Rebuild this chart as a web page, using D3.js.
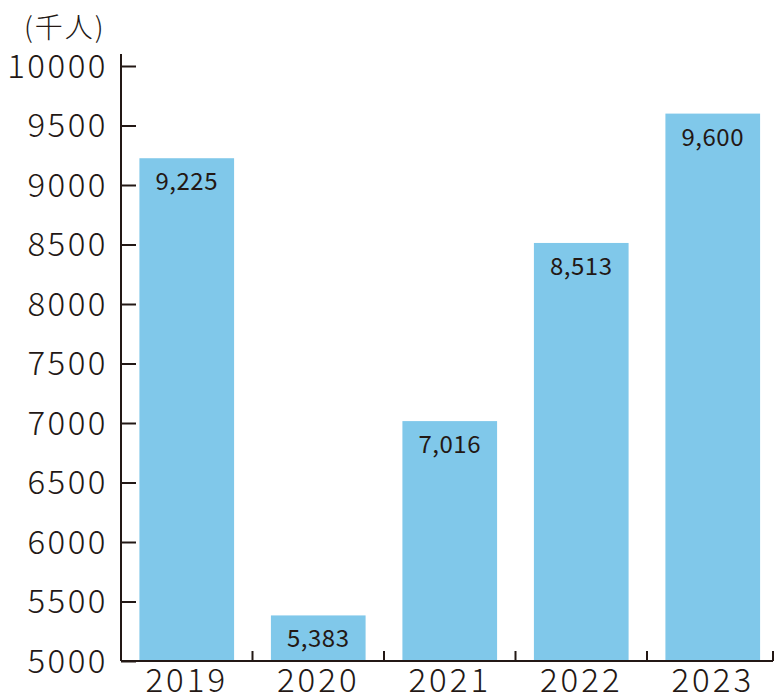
<!DOCTYPE html>
<html>
<head>
<meta charset="utf-8">
<script src="https://cdn.jsdelivr.net/npm/d3@7"></script>
<style>
  body { margin: 0; background: #fff; }
  svg text { font-family: "Noto Sans CJK JP", "Noto Sans", sans-serif; fill: #231815; }
</style>
</head>
<body>
<svg id="drawing_region"></svg>
<script>
// data
const years = ['2019', '2020', '2021', '2022', '2023'];
const visitors = [9225, 5383, 7016, 8513, 9600];
const yTicks = [5000, 5500, 6000, 6500, 7000, 7500, 8000, 8500, 9000, 9500, 10000];
const unitLabel = '(千人)';

const width = 778, height = 692;
const margin = { top: 66, right: 5, bottom: 31, left: 121 };
const axisEnd = 773 - margin.left;  // x axis line stops at x=773
const innerW = 5 * 131.5;
const innerH = height - margin.top - margin.bottom;

const svg = d3.select('#drawing_region')
  .attr('width', width)
  .attr('height', height);

const chart = svg.append('g')
  .attr('transform', `translate(${margin.left}, ${margin.top})`);

// band scale for the tick boundaries, another for the bars
const xband = d3.scaleBand().domain(years).range([0, innerW]).padding(0);
const xbar = d3.scaleBand().domain(years).range([0, innerW])
  .paddingInner(0.28).paddingOuter(0.14);
const yscale = d3.scaleLinear().domain([5000, 10000]).range([innerH, 0]);

const ink = '#231815';

// bars
chart.selectAll('rect')
  .data(years)
  .join('rect')
  .attr('x', (d) => xbar(d))
  .attr('y', (d, i) => yscale(visitors[i]))
  .attr('width', xbar.bandwidth())
  .attr('height', (d, i) => innerH - yscale(visitors[i]))
  .style('fill', '#80c8ea');

// value labels
chart.selectAll('.val')
  .data(years)
  .join('text')
  .attr('class', 'val')
  .attr('x', (d) => xbar(d) + xbar.bandwidth() / 2)
  .attr('y', (d, i) => yscale(visitors[i]) + 32)
  .attr('text-anchor', 'middle')
  .style('font-size', '24px')
  .style('letter-spacing', '0.5px')
  .text((d, i) => d3.format(',')(visitors[i]));

// y axis, ticks pointing into the chart
const yaxis = d3.axisRight(yscale).tickValues(yTicks).tickSize(15).tickFormat('');
const yg = chart.append('g').call(yaxis);
yg.select('.domain').remove();
yg.selectAll('line').attr('stroke', ink).attr('stroke-width', 2);
chart.append('line')
  .attr('x1', 0).attr('x2', 0)
  .attr('y1', -12).attr('y2', innerH)
  .attr('stroke', ink).attr('stroke-width', 2);

chart.selectAll('.ylab')
  .data(yTicks)
  .join('text')
  .attr('class', 'ylab')
  .attr('x', -13)
  .attr('y', (d) => yscale(d))
  .attr('dy', '0.36em')
  .attr('text-anchor', 'end')
  .style('font-size', '33px')
  .style('font-weight', 300)
  .style('letter-spacing', '2.5px')
  .text((d) => d);

// x axis, ticks at band boundaries pointing up
chart.append('line')
  .attr('x1', 0).attr('x2', axisEnd)
  .attr('y1', innerH).attr('y2', innerH)
  .attr('stroke', ink).attr('stroke-width', 2);
chart.selectAll('.xtick')
  .data(years)
  .join('line')
  .attr('class', 'xtick')
  .attr('x1', (d) => Math.min(xband(d) + xband.step(), axisEnd))
  .attr('x2', (d) => Math.min(xband(d) + xband.step(), axisEnd))
  .attr('y1', innerH).attr('y2', innerH - 10)
  .attr('stroke', ink).attr('stroke-width', 2);

chart.selectAll('.xlab')
  .data(years)
  .join('text')
  .attr('class', 'xlab')
  .attr('x', (d) => xbar(d) + xbar.bandwidth() / 2)
  .attr('y', innerH + 31)
  .attr('text-anchor', 'middle')
  .style('font-size', '33px')
  .style('font-weight', 300)
  .style('letter-spacing', '3px')
  .text((d) => d);

// unit label
svg.append('text')
  .attr('x', 24)
  .attr('y', 38)
  .style('font-size', '28px')
  .style('font-weight', 300)
  .style('letter-spacing', '2px')
  .text(unitLabel);
</script>
</body>
</html>
